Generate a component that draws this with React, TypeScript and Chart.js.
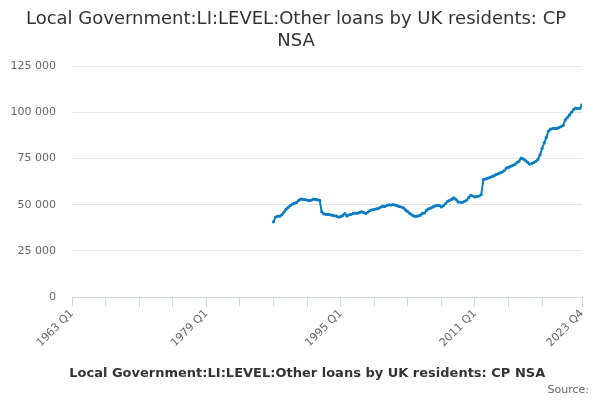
import React, { useEffect, useRef } from 'react';
import { Chart, registerables } from 'chart.js';

Chart.register(...registerables);

const titleLines = ['Local Government:LI:LEVEL:Other loans by UK residents: CP', 'NSA'];
const seriesName = 'Local Government:LI:LEVEL:Other loans by UK residents: CP NSA';
const axisStartYear = 1963;
const axisEndIndex = 243; // 2023 Q4
const dataStartYear = 1987; // first value is 1987 Q1

const values = [
  40700, 43300, 43700, 43800, // 1987
  44500, 46000, 47500, 48500, // 1988
  49500, 50300, 50800, 51200, // 1989
  52300, 53000, 52900, 52700, // 1990
  52500, 52200, 52400, 53000, // 1991
  52900, 52600, 52400, 46100, // 1992
  45000, 44800, 44700, 44500, // 1993
  44300, 44000, 43800, 43300, // 1994
  43500, 44200, 45200, 43900, // 1995
  44500, 44800, 45200, 45500, // 1996
  45300, 45800, 46100, 45700, // 1997
  45200, 46000, 46800, 47200, // 1998
  47400, 47700, 47900, 48600, // 1999
  49200, 49000, 49600, 49900, // 2000
  49800, 50100, 49800, 49400, // 2001
  49000, 48700, 48200, 47000, // 2002
  46200, 45200, 44400, 43800, // 2003
  43700, 43900, 44300, 45300, // 2004
  45500, 47000, 47800, 48200, // 2005
  48800, 49300, 49700, 49500, // 2006
  48800, 49500, 50600, 51800, // 2007
  52400, 53000, 53700, 52800, // 2008
  51500, 51300, 51200, 51800, // 2009
  52400, 53800, 55100, 54700, // 2010
  54200, 54400, 54700, 55500, // 2011
  63600, 63900, 64300, 64700, // 2012
  65200, 65600, 66300, 66700, // 2013
  67200, 67700, 68500, 69800, // 2014
  70200, 70800, 71200, 71800, // 2015
  72700, 73600, 75200, 74800, // 2016
  74000, 73000, 72000, 72200, // 2017
  72800, 73500, 74500, 77000, // 2018
  80500, 83500, 86500, 89800, // 2019
  90900, 91200, 91400, 91300, // 2020
  91700, 92300, 93000, 95800, // 2021
  97200, 98500, 100000, 101500, // 2022
  102300, 102100, 102200, 104100, // 2023
];

const xTickIndices = [0, 16, 32, 48, 64, 80, 96, 112, 128, 144, 160, 176, 192, 208, 224, 243];
const xLabelIndices = [0, 64, 128, 192, 243];
const yMax = 125000;
const yStep = 25000;

const quarterLabel = (i: number) => `${axisStartYear + Math.floor(i / 4)} Q${(i % 4) + 1}`;
const fmt = (v: number) => String(v).replace(/\B(?=(\d{3})+(?!\d))/g, ' ');

export default function App() {
  const ref = useRef<HTMLCanvasElement>(null);
  useEffect(() => {
    if (!ref.current) return;
    Chart.defaults.font.family = '"DejaVu Sans", sans-serif';
    const offset = (dataStartYear - axisStartYear) * 4;
    const points = values.map((v, i) => ({ x: offset + i, y: v }));
    const chart = new Chart(ref.current, {
      type: 'line',
      data: {
        datasets: [
          {
            label: seriesName,
            data: points,
            borderColor: '#0b7dc1',
            backgroundColor: '#0b7dc1',
            borderWidth: 2,
            pointRadius: 1.6,
            pointHoverRadius: 3,
            pointBorderWidth: 0,
            tension: 0,
          },
        ],
      },
      options: {
        responsive: false,
        animation: false,
        layout: { padding: { left: 10, right: 18, top: 0, bottom: 10 } },
        plugins: {
          title: {
            display: true,
            text: titleLines,
            color: '#333333',
            font: { size: 18, weight: 'normal' as any, lineHeight: 1.2 },
            padding: { top: 9, bottom: 14 },
          },
          legend: {
            position: 'bottom',
            labels: {
              color: '#333333',
              font: { size: 13, weight: 'bold' as any },
              usePointStyle: true,
              pointStyle: 'line',
              pointStyleWidth: 16,
              boxHeight: 13,
              padding: 10,
            },
          },
          tooltip: { enabled: false },
        },
        scales: {
          x: {
            type: 'linear',
            min: 0,
            max: axisEndIndex,
            afterBuildTicks: (scale: any) => {
              scale.ticks = xTickIndices.map((v) => ({ value: v }));
            },
            afterFit: (scale: any) => {
              scale.height = 60;
            },
            ticks: {
              autoSkip: false,
              maxRotation: 45,
              minRotation: 45,
              color: '#666666',
              font: { size: 11 },
              padding: 0,
              callback: (value: any) => (xLabelIndices.includes(Number(value)) ? quarterLabel(Number(value)) : ''),
            },
            grid: {
              display: true,
              drawOnChartArea: false,
              drawTicks: true,
              tickLength: 10,
              color: '#ccd6eb',
            },
            border: { display: true, color: '#ccd6eb', width: 1 },
          },
          y: {
            min: 0,
            max: yMax,
            afterFit: (scale: any) => {
              scale.width = 62;
            },
            ticks: {
              stepSize: yStep,
              color: '#666666',
              font: { size: 11 },
              padding: 16,
              callback: (v: any) => fmt(Number(v)),
            },
            grid: { color: '#e6e6e6', drawTicks: false },
            border: { display: false },
          },
        },
      },
    });
    return () => chart.destroy();
  }, []);
  return (
    <div style={{ position: 'fixed', left: 0, top: 0, width: 600, height: 400, background: '#fff' }}>
      <canvas ref={ref} width={600} height={400} style={{ width: 600, height: 400 }} />
      <div
        style={{
          position: 'absolute',
          right: 11,
          top: 383,
          fontFamily: '"DejaVu Sans", sans-serif',
          fontSize: 11,
          color: '#666666',
        }}
      >
        Source:
      </div>
    </div>
  );
}
